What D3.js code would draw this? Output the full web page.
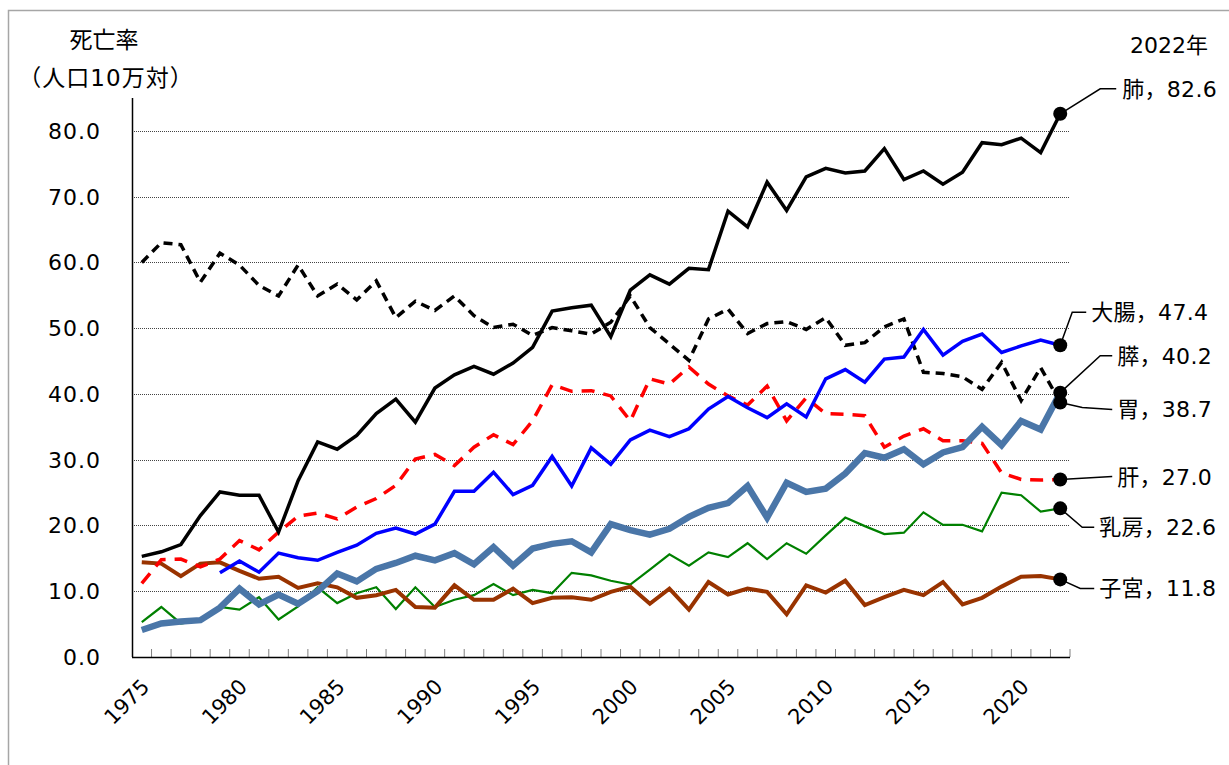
<!DOCTYPE html>
<html>
<head>
<meta charset="utf-8">
<script src="https://cdn.jsdelivr.net/npm/d3@7"></script>
<style>
  body { margin: 0; background: #fff; }
  #chart { width: 1229px; height: 765px; }
  text { font-family: "DejaVu Sans", "Noto Sans CJK JP", sans-serif; fill: #000; }
</style>
</head>
<body>
<div id="chart"></div>
<script>
// years 1975-2022
const years = d3.range(1975, 2023);
const yTicks = [0, 10, 20, 30, 40, 50, 60, 70, 80];
const xLabelYears = [1975, 1980, 1985, 1990, 1995, 2000, 2005, 2010, 2015, 2020];

// 死亡率（人口10万対）
const lung = [15.3,16.0,17.1,21.5,25.1,24.6,24.6,19.0,26.8,32.7,
  31.6,33.7,37.0,39.2,35.7,40.9,42.9,44.2,43.0,44.7,
  47.1,52.6,53.1,53.5,48.7,55.8,58.1,56.7,59.1,58.9,
  67.8,65.4,72.2,67.9,73.0,74.3,73.6,73.9,77.3,72.6,
  73.9,71.9,73.7,78.2,77.9,78.9,76.7,82.6];
const stomach = [60.0,63.0,62.7,57.0,61.4,59.6,56.5,54.9,59.6,54.9,
  56.7,54.3,57.2,51.6,54.1,52.7,54.9,51.9,50.1,50.6,
  48.9,50.1,49.6,49.1,50.9,54.9,50.1,47.6,45.1,51.4,
  52.9,49.2,50.7,51.0,49.8,51.6,47.4,47.8,50.2,51.4,
  43.3,43.1,42.6,40.7,44.8,39.0,44.0,38.7];
const liver = [11.2,14.8,14.9,13.7,14.9,17.7,16.3,19.0,21.4,21.9,
  21.0,22.8,24.1,26.1,30.1,30.8,29.1,31.9,33.8,32.3,
  35.9,41.4,40.4,40.5,39.7,35.9,42.3,41.5,44.1,41.5,
  39.7,38.3,41.2,35.9,39.4,37.0,36.9,36.7,31.9,33.6,
  34.7,32.9,32.9,32.5,28.0,27.0,26.9,27.0];
const colon = [null,null,null,null,12.8,14.6,12.9,15.8,15.1,14.7,
  15.9,17.0,18.8,19.6,18.7,20.2,25.2,25.2,28.1,24.7,
  26.1,30.5,26.0,31.8,29.3,33.0,34.5,33.5,34.7,37.7,
  39.6,37.9,36.4,38.5,36.5,42.3,43.7,41.8,45.3,45.6,
  49.8,45.9,48.0,49.1,46.3,47.3,48.2,47.4];
const pancreas = [4.1,5.1,5.4,5.6,7.5,10.4,8.0,9.5,8.1,10.0,
  12.7,11.5,13.4,14.3,15.4,14.7,15.8,14.1,16.7,13.9,
  16.5,17.2,17.6,15.9,20.2,19.3,18.6,19.5,21.3,22.7,
  23.4,26.0,21.2,26.5,25.1,25.6,27.9,31.0,30.3,31.6,
  29.3,31.1,31.9,35.0,32.2,35.9,34.6,40.2];
const breast = [5.3,7.6,5.1,5.6,7.6,7.2,9.1,5.7,7.7,10.6,
  8.2,9.7,10.6,7.3,10.6,7.6,8.7,9.4,11.1,9.4,
  10.2,9.7,12.8,12.4,11.6,11.0,13.3,15.6,13.9,15.9,
  15.2,17.3,14.9,17.3,15.7,18.5,21.2,19.9,18.7,18.9,
  22.0,20.1,20.1,19.1,25.0,24.6,22.1,22.6];
const uterus = [14.4,14.2,12.3,14.2,14.4,13.1,11.9,12.2,10.5,11.2,
  10.6,9.0,9.4,10.2,7.6,7.5,10.9,8.7,8.7,10.4,
  8.2,9.0,9.1,8.7,9.9,10.7,8.1,10.4,7.2,11.4,
  9.5,10.4,9.9,6.5,10.9,9.8,11.6,7.9,9.1,10.2,
  9.4,11.4,8.0,9.0,10.7,12.2,12.3,11.8];

const seriesNames = ["乳房", "子宮", "肝", "胃", "大腸", "膵", "肺"];
const seriesValues = [breast, uterus, liver, stomach, colon, pancreas, lung];

/* STYLES */
const styles = {
  "乳房": {color: "#008000", width: 2.2, dash: null},
  "子宮": {color: "#993300", width: 4, dash: null},
  "肝":   {color: "#ff0000", width: 3.5, dash: "13,9"},
  "胃":   {color: "#000000", width: 3.5, dash: "9,6"},
  "大腸": {color: "#0000ff", width: 3.5, dash: null},
  "膵":   {color: "#4a76a8", width: 6.5, dash: null},
  "肺":   {color: "#000000", width: 3.5, dash: null}
};
// end label placement: leader points relative to last point, text position
const labelPos = {
  "肺":   {pts: [[40, -25], [56, -25]], tx: 62, ty: -25},
  "大腸": {pts: [[12, -33], [26, -33]], tx: 31, ty: -33},
  "膵":   {pts: [[40, -37], [52, -37]], tx: 57, ty: -37},
  "胃":   {pts: [[22, 5], [52, 7]], tx: 57, ty: 7},
  "肝":   {pts: [[52, -3]], tx: 57, ty: -2},
  "乳房": {pts: [[22, 19], [34, 19]], tx: 39, ty: 19},
  "子宮": {pts: [[20, 9], [34, 9]], tx: 39, ty: 9}
};

const width = 1229, height = 765;
const margin = {top: 98, left: 132, right: 159, bottom: 108};

const svg = d3.select("#chart").append("svg")
  .attr("width", width).attr("height", height);

// frame
svg.append("rect")
  .attr("x", 8.5).attr("y", 10.5)
  .attr("width", 1240).attr("height", 800)
  .attr("fill", "none").attr("stroke", "#a6a6a6").attr("stroke-width", 1.5);

const xScale = d3.scaleBand()
  .domain(years)
  .range([margin.left, width - margin.right])
  .padding(0);
const xc = d => xScale(d) + xScale.bandwidth() / 2;

const yScale = d3.scaleLinear()
  .domain([0, 85])
  .range([height - margin.bottom, margin.top]);

/* GRIDLINES */
svg.append("g").selectAll("line")
  .data(yTicks.filter(d => d > 0))
  .join("line")
  .attr("x1", margin.left).attr("x2", width - margin.right)
  .attr("y1", d => Math.round(yScale(d)) + 0.5)
  .attr("y2", d => Math.round(yScale(d)) + 0.5)
  .attr("stroke", "#444").attr("stroke-width", 1)
  .attr("stroke-dasharray", "1,1");

/* Y LABELS */
svg.append("g").selectAll("text")
  .data(yTicks)
  .join("text")
  .attr("x", 101)
  .attr("y", d => yScale(d))
  .attr("dy", "0.36em")
  .attr("text-anchor", "end")
  .style("font-size", "22px")
  .style("letter-spacing", "1px")
  .text(d => d3.format(".1f")(d));

/* X TICKS (between categories) */
const y0 = yScale(0);
svg.append("g").selectAll("line")
  .data(years.slice(1).concat(["end"]))
  .join("line")
  .attr("x1", d => d === "end" ? width - margin.right : xScale(d))
  .attr("x2", d => d === "end" ? width - margin.right : xScale(d))
  .attr("y1", y0).attr("y2", y0 - 8)
  .attr("stroke", "#808080").attr("stroke-width", 1);

svg.append("g").selectAll("text")
  .data(xLabelYears)
  .join("text")
  .attr("transform", d => `translate(${xc(d) + 9},${y0 + 31}) rotate(-45)`)
  .attr("text-anchor", "end")
  .style("font-size", "21px")
  .text(d => d);

/* LINES */
const line = d3.line()
  .defined(d => d.v !== null)
  .x(d => xc(d.year))
  .y(d => yScale(d.v));

seriesNames.forEach(function(name, i) {
  const s = styles[name];
  const data = years.map((y, j) => ({year: y, v: seriesValues[i][j]}));
  svg.append("path")
    .datum(data)
    .attr("d", line)
    .attr("fill", "none")
    .attr("stroke", s.color)
    .attr("stroke-width", s.width)
    .attr("stroke-dasharray", s.dash)
    .attr("stroke-linejoin", "miter");
});

/* AXES LINES */
svg.append("line")
  .attr("x1", margin.left + 0.5).attr("x2", margin.left + 0.5)
  .attr("y1", margin.top).attr("y2", y0)
  .attr("stroke", "#000").attr("stroke-width", 1.5);
svg.append("line")
  .attr("x1", margin.left).attr("x2", width - margin.right)
  .attr("y1", y0 + 0.5).attr("y2", y0 + 0.5)
  .attr("stroke", "#000").attr("stroke-width", 1.5);

/* END LABELS */
const lastYear = years[years.length - 1];
seriesNames.forEach(function(name, i) {
  const v = seriesValues[i][years.length - 1];
  const px = xc(lastYear), py = yScale(v);
  const lp = labelPos[name];
  const pts = [[px, py]].concat(lp.pts.map(p => [px + p[0], py + p[1]]));
  svg.append("path")
    .attr("d", d3.line()(pts))
    .attr("fill", "none").attr("stroke", "#000").attr("stroke-width", 1.5);
  svg.append("circle")
    .attr("cx", px).attr("cy", py).attr("r", 7)
    .attr("fill", "#000");
  svg.append("text")
    .attr("x", px + lp.tx).attr("y", py + lp.ty)
    .attr("dy", "0.36em")
    .style("font-size", "22px")
    .style("letter-spacing", "0.3px")
    .text(name + "，" + d3.format(".1f")(v));
});

/* TITLES */
svg.append("text")
  .attr("x", 104).attr("y", 40).attr("dy", "0.36em")
  .attr("text-anchor", "middle")
  .style("font-size", "23px")
  .text("死亡率");
svg.append("text")
  .attr("x", 106).attr("y", 78).attr("dy", "0.36em")
  .attr("text-anchor", "middle")
  .style("font-size", "23px")
  .style("letter-spacing", "1px")
  .text("（人口10万対）");
svg.append("text")
  .attr("x", 1169).attr("y", 45).attr("dy", "0.36em")
  .attr("text-anchor", "middle")
  .style("font-size", "22px")
  .text("2022年");
</script>
</body>
</html>
